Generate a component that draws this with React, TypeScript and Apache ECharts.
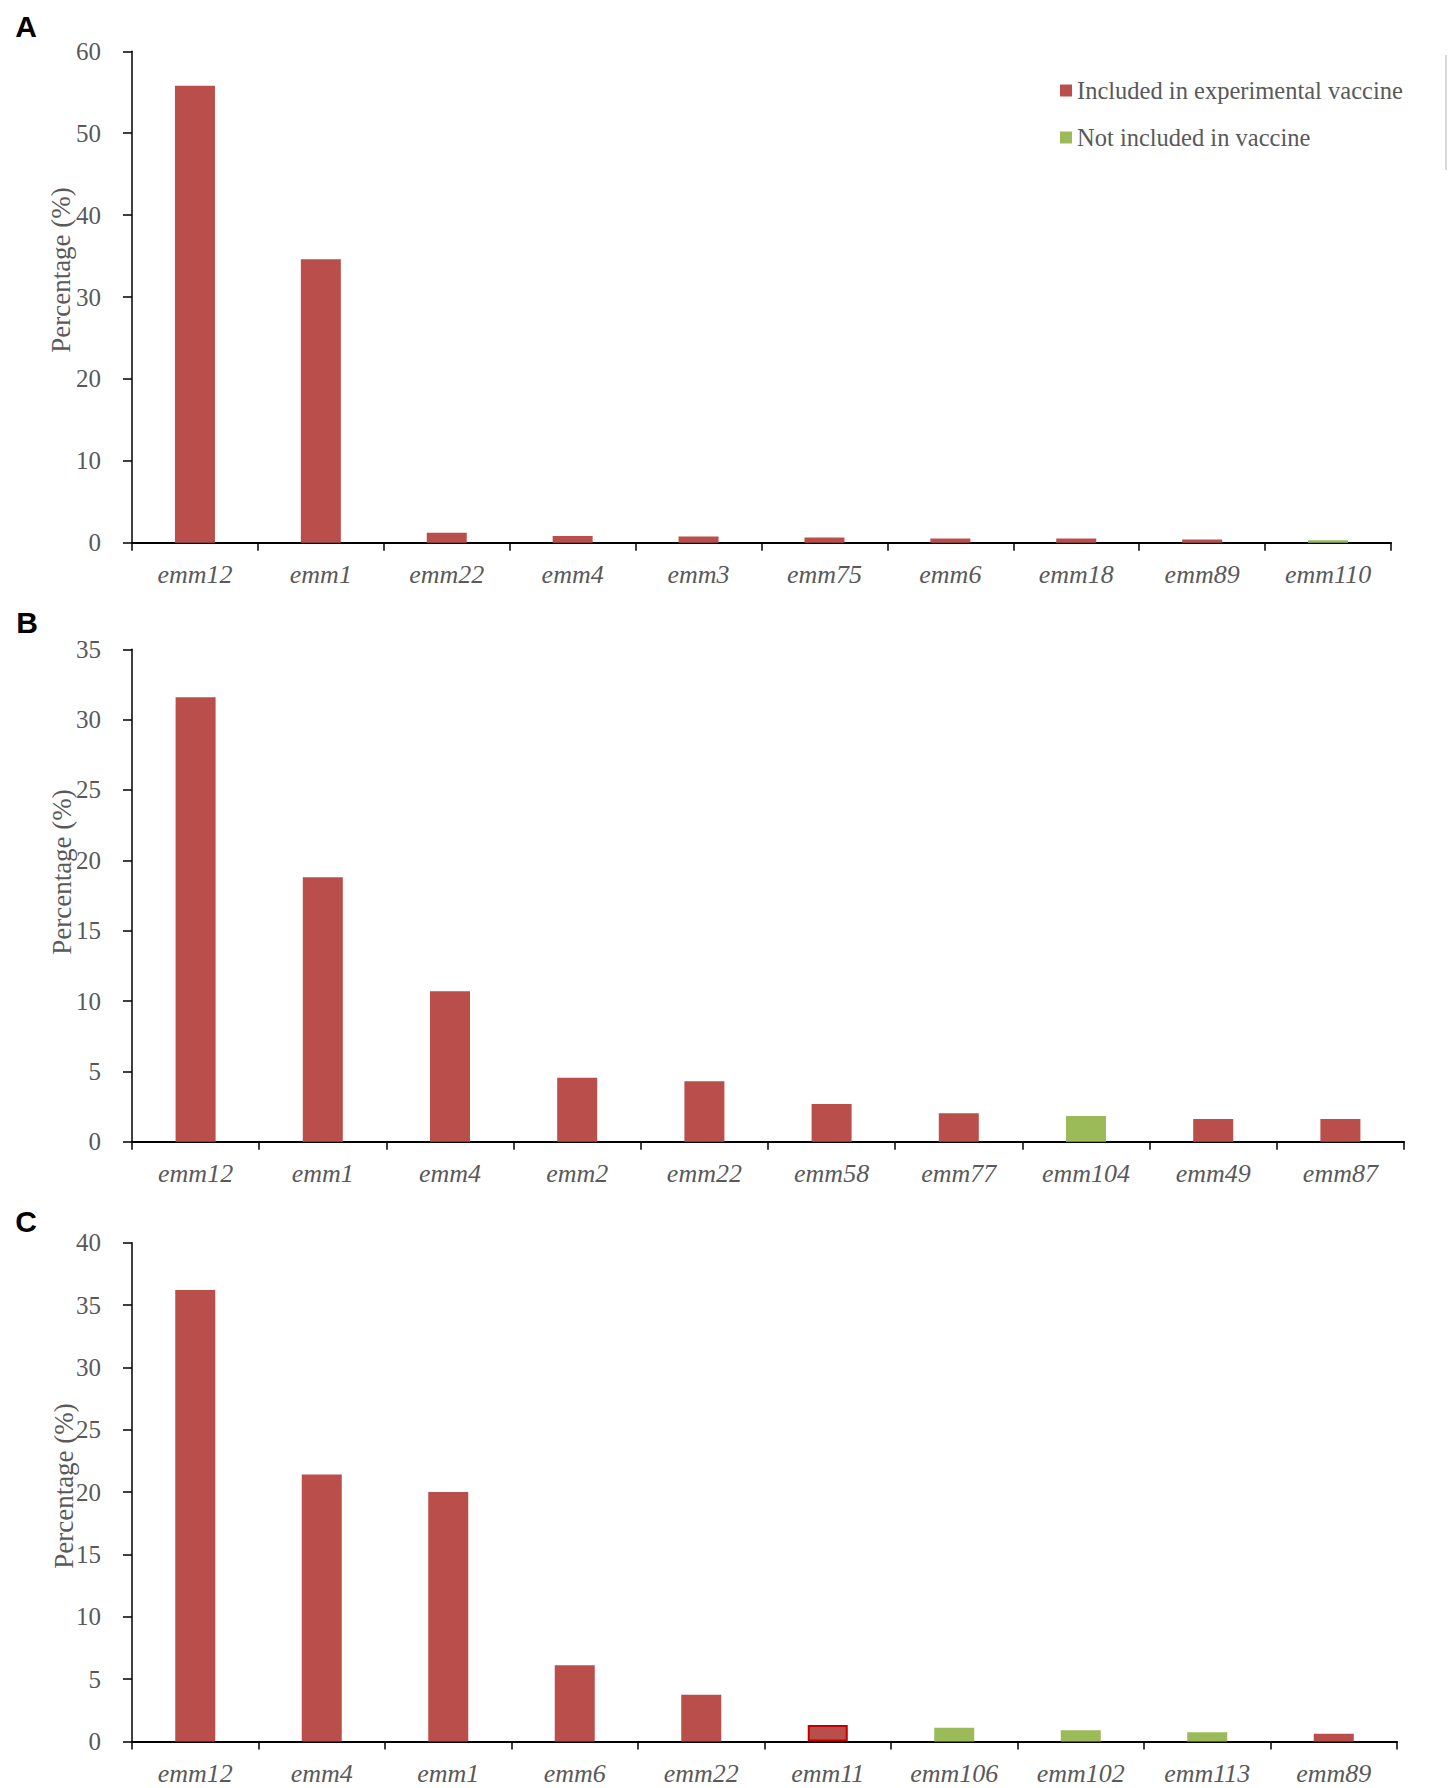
import React, { useEffect, useRef } from "react";
import * as echarts from "echarts";

const catsA = ["emm12", "emm1", "emm22", "emm4", "emm3", "emm75", "emm6", "emm18", "emm89", "emm110"];
const valsA = [55.8, 34.6, 1.2, 0.82, 0.75, 0.62, 0.52, 0.5, 0.4, 0.3];
const inVacA = [1, 1, 1, 1, 1, 1, 1, 1, 1, 0];

const catsB = ["emm12", "emm1", "emm4", "emm2", "emm22", "emm58", "emm77", "emm104", "emm49", "emm87"];
const valsB = [31.6, 18.8, 10.7, 4.55, 4.3, 2.68, 2.03, 1.83, 1.61, 1.61];
const inVacB = [1, 1, 1, 1, 1, 1, 1, 0, 1, 1];

const catsC = ["emm12", "emm4", "emm1", "emm6", "emm22", "emm11", "emm106", "emm102", "emm113", "emm89"];
const valsC = [36.2, 21.4, 20.0, 6.1, 3.74, 1.31, 1.1, 0.89, 0.73, 0.62];
const inVacC = [1, 1, 1, 1, 1, 1, 0, 0, 0, 1];
const outlinedC = ["emm11"];

const yMaxes = [60, 35, 40];
const yIntervals = [10, 5, 5];
const panelLetters = ["A", "B", "C"];

const NAME_IN = "Included in experimental vaccine";
const NAME_OUT = "Not included in vaccine";
const RED = "#BA4E4B";
const GREEN = "#9BBB59";
const SERIF = "'Liberation Serif', 'Times New Roman', serif";
const GRAY = "#595959";

export default function App() {
  const ref = useRef<HTMLDivElement>(null);
  useEffect(() => {
    if (!ref.current) return;
    const chart = echarts.init(ref.current, undefined, { renderer: "svg" });
    const panels = [
      { cats: catsA, vals: valsA, inv: inVacA, outlined: [] as string[] },
      { cats: catsB, vals: valsB, inv: inVacB, outlined: [] as string[] },
      { cats: catsC, vals: valsC, inv: inVacC, outlined: outlinedC },
    ];
    const grids = [
      { left: 132, right: 62, top: 51.3, height: 491.4 },
      { left: 132, right: 49, top: 649.3, height: 492.4 },
      { left: 132, right: 56, top: 1242.7, height: 498.7 },
    ];
    const xAxes = panels.map((p, i) => ({
      type: "category",
      gridIndex: i,
      data: p.cats,
      boundaryGap: true,
      axisLine: { show: true, lineStyle: { color: "#000", width: 2 } },
      axisTick: { show: true, length: 8, lineStyle: { color: "#000", width: 1.5 } },
      axisLabel: {
        color: GRAY,
        fontFamily: SERIF,
        fontStyle: "italic",
        fontSize: 26,
        margin: 19,
        interval: 0,
      },
    }));
    const yAxes = panels.map((p, i) => ({
      type: "value",
      gridIndex: i,
      min: 0,
      max: yMaxes[i],
      interval: yIntervals[i],
      splitLine: { show: false },
      axisLine: { show: true, lineStyle: { color: "#000", width: 1.5 } },
      axisTick: { show: true, length: 9, lineStyle: { color: "#000", width: 1.5 } },
      axisLabel: { color: GRAY, fontFamily: SERIF, fontSize: 25, margin: 31 },
    }));
    const series: any[] = [];
    panels.forEach((p, i) => {
      const mk = (want: number) =>
        p.vals.map((v, k) => {
          if (p.inv[k] !== want) return "-";
          if (p.outlined.includes(p.cats[k])) {
            return { value: v, itemStyle: { borderColor: "#C00000", borderWidth: 2 } };
          }
          return v;
        });
      series.push({
        name: NAME_IN,
        type: "bar",
        xAxisIndex: i,
        yAxisIndex: i,
        stack: "s" + i,
        barWidth: 40,
        itemStyle: { color: RED },
        data: mk(1),
      });
      series.push({
        name: NAME_OUT,
        type: "bar",
        xAxisIndex: i,
        yAxisIndex: i,
        stack: "s" + i,
        barWidth: 40,
        itemStyle: { color: GREEN },
        data: mk(0),
      });
    });
    const titleCenters = [
      [61, 270],
      [62, 872],
      [64, 1486],
    ];
    const letterCenters = [
      [26, 26],
      [27, 622],
      [26, 1221],
    ];
    const graphics: any[] = [];
    titleCenters.forEach((c) => {
      graphics.push({
        type: "text",
        x: c[0],
        y: c[1],
        rotation: Math.PI / 2,
        style: {
          text: "Percentage (%)",
          fill: GRAY,
          font: `27px ${SERIF}`,
          align: "center",
          verticalAlign: "middle",
        },
      });
    });
    letterCenters.forEach((c, i) => {
      graphics.push({
        type: "text",
        x: c[0],
        y: c[1],
        style: {
          text: panelLetters[i],
          fill: "#000",
          font: "bold 30px 'Liberation Sans', Arial, sans-serif",
          align: "center",
          verticalAlign: "middle",
        },
      });
    });
    graphics.push({
      type: "line",
      shape: { x1: 1446, y1: 55, x2: 1446, y2: 170 },
      style: { stroke: "#d9d9d9", lineWidth: 2 },
    });
    chart.setOption({
      animation: false,
      backgroundColor: "#fff",
      grid: grids,
      xAxis: xAxes,
      yAxis: yAxes,
      legend: {
        data: [NAME_IN, NAME_OUT],
        orient: "vertical",
        left: 1060,
        top: 78,
        padding: 0,
        itemWidth: 12,
        itemHeight: 12,
        itemGap: 22,
        icon: "rect",
        selectedMode: false,
        textStyle: { color: GRAY, fontFamily: SERIF, fontSize: 24.5 },
      },
      graphic: graphics,
      series,
    });
    return () => chart.dispose();
  }, []);
  return (
    <div
      ref={ref}
      style={{ position: "absolute", left: 0, top: 0, width: 1453, height: 1788 }}
    />
  );
}
